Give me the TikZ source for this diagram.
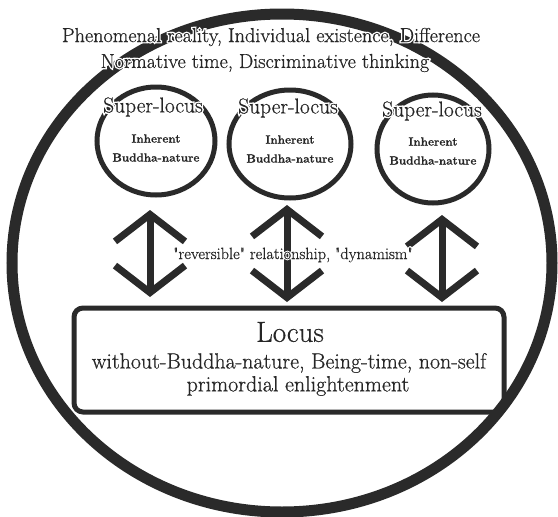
\documentclass[tikz,border=0pt]{standalone}
\usepackage{fontspec}
\setmainfont{Latin Modern Roman}[FakeBold=0.6]
\newfontfamily\plainlm{Latin Modern Roman}[Ligatures=TeXOff,FakeBold=0.6]
\newfontfamily\halolm{Latin Modern Roman}[FakeBold=14]
\newfontfamily\halolmq{Latin Modern Roman}[Ligatures=TeXOff,FakeBold=14]
\usetikzlibrary{arrows.meta}
\definecolor{ink}{HTML}{2A2A2A}
\definecolor{txt}{HTML}{262626}
\tikzset{
  bigring/.style={draw=ink,line width=11pt},
  superring/.style={draw=ink,line width=5pt},
  locusbox/.style={draw=ink,line width=5pt,rounded corners=9pt},
  dblarrow/.style={draw=ink,line width=7pt,
    {Straight Barb[length=27pt,width=70pt]}-{Straight Barb[length=27pt,width=70pt]}},
  lbl/.style={text=txt,inner sep=0pt,align=center},
  halo/.style={text=white,inner sep=0pt,align=center},
}
\begin{document}
\begin{tikzpicture}[x=1pt,y=-1pt]
\useasboundingbox (0,0) rectangle (558,517);
\draw[bigring] (282,263) ellipse [x radius=270,y radius=249];

\node[halo,font=\halolm\fontsize{20.2}{22}\selectfont] (top1h) at (271,37) {Phenomenal reality, Individual existence, Difference};
\node[lbl,font=\fontsize{20.2}{22}\selectfont] (top1) at (271,37) {Phenomenal reality, Individual existence, Difference};
\node[halo,font=\halolm\fontsize{20.2}{22}\selectfont] (top2h) at (265,63) {Normative time, Discriminative thinking};
\node[lbl,font=\fontsize{20.2}{22}\selectfont] (top2) at (265,63) {Normative time, Discriminative thinking};

\draw[superring] (156,141) ellipse [x radius=59,y radius=54];
\draw[superring] (290,144) ellipse [x radius=61,y radius=54];
\draw[superring] (433,149) ellipse [x radius=56,y radius=54];

\node[halo,font=\halolm\fontsize{21.5}{24}\selectfont] (s1h) at (153,107) {Super-locus};
\node[lbl,font=\fontsize{21.5}{24}\selectfont] (s1) at (153,107) {Super-locus};
\node[halo,font=\halolm\fontsize{21.5}{24}\selectfont] (s2h) at (288,108) {Super-locus};
\node[lbl,font=\fontsize{21.5}{24}\selectfont] (s2) at (288,108) {Super-locus};
\node[halo,font=\halolm\fontsize{21.5}{24}\selectfont] (s3h) at (432,111) {Super-locus};
\node[lbl,font=\fontsize{21.5}{24}\selectfont] (s3) at (432,111) {Super-locus};

\node[lbl,font=\bfseries\fontsize{11.7}{19}\selectfont] (b1) at (156,148) {Inherent\\Buddha-nature};
\node[lbl,font=\bfseries\fontsize{11.7}{19}\selectfont] (b2) at (290,149) {Inherent\\Buddha-nature};
\node[lbl,font=\bfseries\fontsize{11.7}{19}\selectfont] (b3) at (433,151) {Inherent\\Buddha-nature};

\node[locusbox,minimum width=430pt,minimum height=104pt] (locus) at (289,360) {};
\node[lbl,font=\fontsize{29}{32}\selectfont] (lt) at (290,332) {Locus};
\node[lbl,font=\fontsize{21.9}{25}\selectfont] (l2) at (289,363) {without-Buddha-nature, Being-time, non-self};
\node[lbl,font=\fontsize{22}{25}\selectfont] (l3) at (298,386) {primordial enlightenment};

\coordinate (a1t) at (150,210); \coordinate (a1b) at (150,297);
\coordinate (a2t) at (287,205); \coordinate (a2b) at (287,302);
\coordinate (a3t) at (442,215); \coordinate (a3b) at (442,302);
\draw[dblarrow] (a1t) -- (a1b);
\draw[dblarrow] (a2t) -- (a2b);
\draw[dblarrow] (a3t) -- (a3b);

\node[halo,font=\halolmq\fontsize{16.3}{19}\selectfont] (revh) at (293,255) {"reversible" relationship, "dynamism"};
\node[lbl,font=\plainlm\fontsize{16.3}{19}\selectfont] (rev) at (293,255) {"reversible" relationship, "dynamism"};
\end{tikzpicture}
\end{document}
